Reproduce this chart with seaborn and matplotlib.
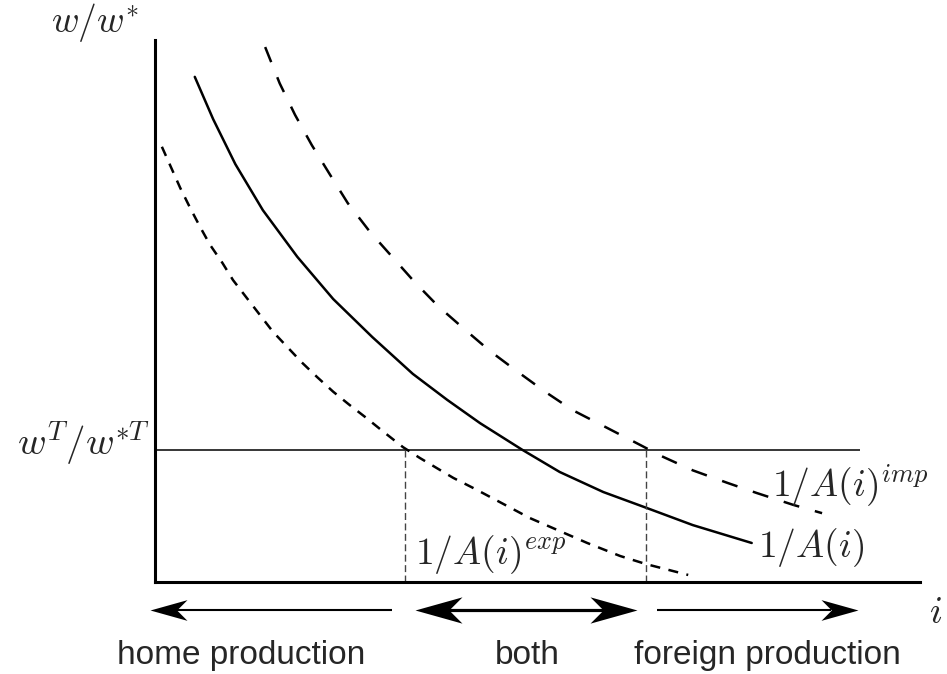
import matplotlib
matplotlib.use("Agg")
import matplotlib.pyplot as plt
from matplotlib.path import Path
import seaborn as sns

# ------------------------------
# Data (axis units 0..10)
# ------------------------------
i_solid = [0.52, 0.76, 1.05, 1.41, 1.86, 2.33, 2.84, 3.37, 3.82, 4.25, 4.80, 5.29, 5.86, 6.42, 7.03, 7.80]
a_solid = [9.32, 8.54, 7.71, 6.86, 6.00, 5.22, 4.52, 3.84, 3.36, 2.93, 2.44, 2.03, 1.66, 1.37, 1.05, 0.72]

i_imp = [1.44, 1.63, 1.83, 2.05, 2.29, 2.52, 2.81, 3.39, 3.70, 4.04, 4.38, 4.73, 5.10, 5.46, 5.86,
         6.34, 6.64, 7.03, 7.48, 7.87, 8.35, 8.72]
a_imp = [9.87, 9.20, 8.62, 8.06, 7.51, 6.99, 6.46, 5.54, 5.09, 4.67, 4.26, 3.89, 3.51, 3.17, 2.88,
         2.53, 2.31, 2.06, 1.83, 1.64, 1.42, 1.27]

i_exp = [0.09, 0.33, 0.46, 0.59, 0.72, 0.88, 1.02, 1.20, 1.37, 1.54, 1.74, 1.92, 2.12, 2.33, 2.54,
         2.76, 2.97, 3.24, 3.46, 3.90, 4.18, 4.90, 5.65, 6.08, 6.42, 6.97]
a_exp = [8.03, 7.27, 6.90, 6.55, 6.22, 5.89, 5.57, 5.24, 4.93, 4.62, 4.32, 4.05, 3.78, 3.51, 3.27,
         3.03, 2.79, 2.49, 2.29, 1.92, 1.72, 1.18, 0.72, 0.48, 0.33, 0.13]

wage_T = 2.44          # w^T / w*^T
i_max = 9.22           # end of the wage line
cutoffs = [3.27, 6.42] # i where the wage line meets exp / imp curves

# region arrows: (tail, tip) along i
home_arrow = (3.10, -0.07)
both_arrow = (3.40, 6.30)      # double headed: both ends are tips
foreign_arrow = (6.56, 9.19)
region_labels = ["home production", "both", "foreign production"]
region_x = [1.12, 4.86, 8.00]

# ------------------------------
# Plot
# ------------------------------
sns.set_style("white")
plt.rcParams["mathtext.fontset"] = "cm"
plt.rcParams["font.family"] = ["Liberation Sans", "DejaVu Sans"]

fig = plt.figure(figsize=(9.47, 6.74), dpi=100)
ax = fig.add_axes([155 / 947, 92 / 674, 765 / 947, 542 / 674])
ax.set_xlim(0, 10)
ax.set_ylim(0, 10)

sns.lineplot(x=i_solid, y=a_solid, ax=ax, color="black", lw=1.8, sort=False, estimator=None)
sns.lineplot(x=i_imp, y=a_imp, ax=ax, color="black", lw=1.8, sort=False, estimator=None,
             linestyle=(0, (6.5, 6.5)))
sns.lineplot(x=i_exp, y=a_exp, ax=ax, color="black", lw=1.8, sort=False, estimator=None,
             linestyle=(0, (4.0, 3.4)))

ax.hlines(wage_T, 0, i_max, color="black", lw=1.1)
ax.vlines(cutoffs, 0, wage_T, color="#444444", lw=1.0, linestyles=(0, (5, 2.5)))

sns.despine(ax=ax)
for side in ["left", "bottom"]:
    ax.spines[side].set_linewidth(2.2)
    ax.spines[side].set_color("black")
ax.set_xticks([])
ax.set_yticks([])

# axis labels
ax.text(-0.78, 10.33, r"$w/w^{*}$", fontsize=27, ha="center", va="center", clip_on=False)
ax.text(-0.06, 2.34, r"$w^{T}/w^{*T}$", fontsize=28, ha="right", va="baseline", clip_on=False)
ax.text(10.2, -0.76, r"$i$", fontsize=27, ha="center", va="baseline", clip_on=False)

# curve labels
ax.text(8.07, 1.57, r"$1/A(i)^{imp}$", fontsize=27, ha="left", va="baseline")
ax.text(7.88, 0.46, r"$1/A(i)$", fontsize=27, ha="left", va="baseline")
ax.text(3.40, 0.33, r"$1/A(i)^{exp}$", fontsize=27, ha="left", va="baseline")

# stealth-style arrow heads as markers (tip at the marker origin)
head_right = Path([(0, 0), (-1, 0.28), (-0.72, 0), (-1, -0.28), (0, 0)],
                  [Path.MOVETO, Path.LINETO, Path.LINETO, Path.LINETO, Path.CLOSEPOLY])
head_left = Path([(0, 0), (1, 0.28), (0.72, 0), (1, -0.28), (0, 0)],
                 [Path.MOVETO, Path.LINETO, Path.LINETO, Path.LINETO, Path.CLOSEPOLY])
arrow_y = -0.52
px = 1 / 76.5  # data units per pixel along i

def draw_head(tip, path, length_px):
    ax.plot([tip], [arrow_y], marker=path, ms=length_px * 0.72 * 2, color="black",
            mec="black", mew=0, ls="none", clip_on=False)

# home production (pointing left)
ax.plot([home_arrow[0], home_arrow[1] + 27 * px], [arrow_y, arrow_y], color="black", lw=1.5,
        solid_capstyle="butt", clip_on=False)
draw_head(home_arrow[1], head_left, 37)
# both (double)
ax.plot([both_arrow[0] + 33 * px, both_arrow[1] - 33 * px], [arrow_y, arrow_y], color="black",
        lw=2.3, solid_capstyle="butt", clip_on=False)
draw_head(both_arrow[0], head_left, 47)
draw_head(both_arrow[1], head_right, 47)
# foreign production (pointing right)
ax.plot([foreign_arrow[0], foreign_arrow[1] - 27 * px], [arrow_y, arrow_y], color="black", lw=1.5,
        solid_capstyle="butt", clip_on=False)
draw_head(foreign_arrow[1], head_right, 37)

for label, x in zip(region_labels, region_x):
    ax.text(x, -1.35, label, fontsize=24, ha="center", va="center", clip_on=False)

fig.savefig("out.png", dpi=100)
